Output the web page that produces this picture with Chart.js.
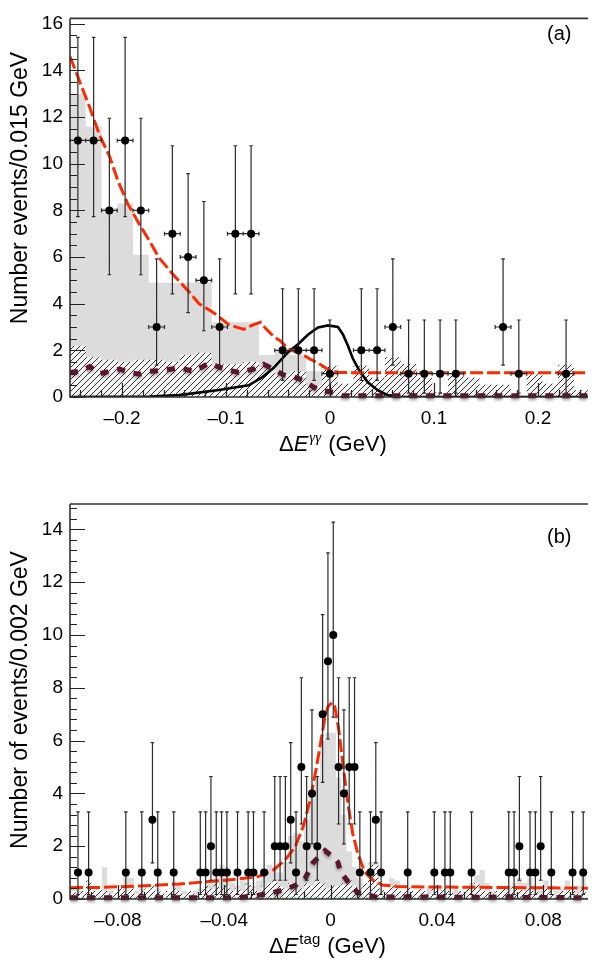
<!DOCTYPE html>
<html>
<head>
<meta charset="utf-8">
<script src="https://cdn.jsdelivr.net/npm/chart.js@4.4.1/dist/chart.umd.min.js"></script>
<style>
  html, body { margin: 0; padding: 0; background: #fff; }
  #wrap { position: relative; width: 592px; height: 966px; overflow: hidden; }
  canvas { position: absolute; left: 0; }
</style>
</head>
<body>
<div id="wrap">
  <canvas id="chartA" width="592" height="470" style="top:0px"></canvas>
  <canvas id="chartB" width="592" height="496" style="top:470px"></canvas>
</div>
<script>
// ---------- panel (a): Delta E gamma gamma ----------
const binStartA = -0.25;
const binWidthA = 0.01514;
// data counts per bin (null = empty bin, not drawn)
const countsA = [11, 11, 8, 11, 8, 3, 7, 6, 5, 3, 7, 7, null, 2, 2, 2, 1, null, 2, 2, 3, 1, 1, 1, 1, null, null, 3, 1, null, null, 1, null];
// grey MC histogram
const mcTotalA = [13.0, 11.6, 8.1, 8.3, 6.1, 4.9, 4.9, 4.9, 4.95, 3.2, 3.2, 3.2, 1.8, 2.0, 1.8, 1.1, 1.34, 0.57, 1.34, 0.83, 1.7, 1.42, 0.83, 0.2, 1.0, 0.83, 0.53, 0.53, 0.05, 1.04, 0.57, 1.38, 0.29];
// hatched background MC histogram
const mcBkgA = [2.2, 1.7, 1.6, 1.5, 1.6, 1.6, 1.5, 1.8, 1.9, 1.4, 1.4, 1.5, 1.3, 1.0, 1.1, 0.5, 1.34, 0.57, 1.34, 0.83, 1.7, 1.42, 0.83, 0.2, 1.0, 0.83, 0.53, 0.53, 0.05, 1.04, 0.57, 1.38, 0.29];
// red dashed total fit
const fitXA = [-0.25, -0.2405, -0.2309, -0.2214, -0.2118, -0.2042, -0.1947, -0.1832, -0.1737, -0.1641, -0.1498, -0.1355, -0.126, -0.1116, -0.0973, -0.083, -0.0735, -0.0668, -0.0611, -0.0544, -0.0477, -0.0401, -0.0258, -0.0181, -0.0115, -0.0019, 0.0076, 0.0267, 0.248];
const fitYA = [14.6, 13.5, 12.4, 11.2, 10.3, 9.3, 8.3, 7.4, 6.7, 5.95, 5.2, 4.5, 4.0, 3.6, 3.1, 2.9, 3.1, 3.2, 2.9, 2.6, 2.4, 2.06, 1.8, 1.6, 1.45, 1.18, 1.05, 1.04, 1.04];
// maroon dashed background component
const bkgXA = [-0.25, -0.2405, -0.2309, -0.2214, -0.2118, -0.2023, -0.1927, -0.1832, -0.1737, -0.1594, -0.145, -0.1307, -0.1164, -0.1021, -0.0878, -0.0735, -0.0639, -0.0544, -0.0448, -0.0305, -0.021, -0.0115, 0.0029, 0.0124, 0.248];
const bkgYA = [1.05, 1.1, 1.3, 1.0, 1.1, 1.2, 1.05, 0.98, 1.1, 1.15, 1.25, 1.1, 1.45, 1.2, 1.05, 1.2, 1.4, 1.2, 0.95, 0.8, 0.57, 0.3, 0.2, 0.05, 0.05];
// black solid signal shape
const sigXA = [-0.25, -0.1737, -0.145, -0.1069, -0.0782, -0.0658, -0.0544, -0.0401, -0.0305, -0.021, -0.0115, -0.0019, 0.0076, 0.0124, 0.0172, 0.0219, 0.0286, 0.0363, 0.0458, 0.0553, 0.0649, 0.248];
const sigYA = [0, 0.02, 0.08, 0.3, 0.5, 0.83, 1.24, 1.93, 2.27, 2.68, 2.98, 3.07, 3.0, 2.68, 2.2, 1.65, 1.1, 0.63, 0.29, 0.08, 0, 0];
const xTicksA = [-0.2, -0.1, 0, 0.1, 0.2];
const yTicksA = [0, 2, 4, 6, 8, 10, 12, 14, 16];

// ---------- panel (b): Delta E tag ----------
const binStartB = -0.098;
const binWidthB = 0.002;
const ptXB = [-0.095, -0.091, -0.077, -0.071, -0.067, -0.065, -0.059, -0.049, -0.047, -0.045, -0.043, -0.041, -0.039, -0.035, -0.031, -0.029, -0.025, -0.021, -0.019, -0.017, -0.015, -0.013, -0.011, -0.009, -0.007, -0.005, -0.003, -0.001, 0.001, 0.003, 0.005, 0.007, 0.009, 0.011, 0.015, 0.017, 0.019, 0.029, 0.039, 0.043, 0.045, 0.053, 0.067, 0.069, 0.071, 0.075, 0.077, 0.079, 0.083, 0.091, 0.095];
const ptNB = [1, 1, 1, 1, 3, 1, 1, 1, 1, 2, 1, 1, 1, 1, 1, 1, 1, 2, 2, 2, 3, 1, 5, 2, 4, 2, 7, 9, 10, 5, 4, 5, 5, 1, 1, 3, 1, 1, 1, 1, 1, 1, 1, 1, 2, 1, 1, 2, 1, 1, 1];
const mcTotalB = [
  0.5, 0.4, 0.3, 0.5, 0.2, 0.3, 1.2, 0.3, 0.2, 0.4,
  0.9, 0.8, 0.3, 0.4, 0.2, 0.3, 0.4, 0.2, 0.3, 0.7,
  0.6, 0.3, 0.2, 0.3, 0.4, 0.5, 0.6, 0.8, 1.3, 1.2,
  0.6, 0.5, 0.7, 0.6, 0.5, 0.7, 0.9, 1.3, 1.2, 1.0,
  1.4, 2.4, 2.5, 2.2, 3.0, 4.0, 4.6, 6.0, 6.3, 6.3,
  4.6, 3.2, 1.8, 1.2, 0.8, 0.6, 1.4, 1.4, 0.4, 0.3,
  0.8, 0.7, 0.3, 0.4, 0.2, 0.3, 0.2, 0.4, 0.3, 0.5,
  0.3, 0.2, 0.4, 0.3, 0.5, 0.6, 0.9, 1.1, 0.6, 0.3,
  0.2, 0.4, 0.5, 0.6, 0.8, 0.6, 0.8, 0.4, 0.3, 0.7,
  0.5, 0.3, 0.4, 0.7, 0.3, 0.5, 1.0
];
const mcBkgB = [
  0.3, 0.2, 0.3, 0.7, 0.3, 0.4, 0.3, 0.2, 0.3, 0.4,
  0.3, 0.4, 0.2, 0.3, 0.4, 0.5, 0.3, 0.2, 0.3, 0.4,
  0.3, 0.2, 0.3, 0.2, 0.3, 0.5, 0.4, 0.6, 0.4, 0.5,
  0.3, 0.4, 0.3, 0.6, 0.4, 0.3, 0.5, 0.6, 0.7, 0.5,
  0.4, 0.6, 0.5, 0.4, 0.6, 0.5, 0.7, 0.6, 0.4, 0.5,
  0.5, 0.6, 0.7, 0.5, 0.4, 0.6, 1.3, 1.3, 0.4, 0.3,
  0.5, 0.4, 0.3, 0.5, 0.3, 0.4, 0.3, 0.2, 0.4, 0.3,
  0.4, 0.3, 0.2, 0.3, 0.4, 0.5, 0.6, 0.4, 0.3, 0.2,
  0.3, 0.4, 0.3, 0.5, 0.4, 0.3, 0.5, 0.3, 0.2, 0.4,
  0.3, 0.2, 0.3, 0.4, 0.3, 0.2, 0.4
];
const fitXB = [-0.098, -0.0868, -0.0719, -0.057, -0.0421, -0.0346, -0.0272, -0.0215, -0.0171, -0.0133, -0.0103, -0.0077, -0.0055, -0.0036, -0.0021, -0.001, 0.0005, 0.0016, 0.0031, 0.0046, 0.0065, 0.0083, 0.0102, 0.0128, 0.0158, 0.0195, 0.0251, 0.0438, 0.0968];
const fitYB = [0.43, 0.44, 0.49, 0.57, 0.69, 0.76, 0.85, 1.1, 1.48, 1.98, 2.74, 3.75, 4.89, 6.0, 6.9, 7.28, 7.44, 7.28, 6.4, 5.14, 3.62, 2.49, 1.73, 1.03, 0.72, 0.53, 0.47, 0.45, 0.41];
const bkgXB = [-0.098, -0.0346, -0.029, -0.0234, -0.0178, -0.013, -0.0096, -0.0066, -0.0044, -0.0021, 0.0009, 0.0027, 0.0038, 0.0065, 0.0102, 0.0169, 0.0968];
const bkgYB = [0.05, 0.05, 0.12, 0.2, 0.34, 0.53, 0.78, 1.37, 1.6, 1.83, 1.6, 1.4, 1.03, 0.66, 0.24, 0.08, 0.05];
const flatXB = [-0.098, 0.0968];
const flatYB = [0.02, 0.02];
const xTicksB = [-0.08, -0.04, 0, 0.04, 0.08];
const yTicksB = [0, 2, 4, 6, 8, 10, 12, 14];

// 68% Poisson intervals by count, as drawn on the error bars
const poissonLo = [0, 0.17, 0.71, 1.37, 2.09, 2.84, 3.62, 4.42, 5.24, 6.06, 6.89, 7.73];
const poissonHi = [1.84, 3.30, 4.64, 5.92, 7.16, 8.38, 9.58, 10.77, 11.95, 13.11, 14.27, 15.42];

const FONT = '"Liberation Sans", Arial, Helvetica, sans-serif';

function histPoints(start, width, vals) {
  const pts = [];
  vals.forEach((v, i) => {
    pts.push({x: start + i * width, y: v});
    pts.push({x: start + (i + 1) * width, y: v});
  });
  return pts;
}

function curve(xs, ys) {
  return xs.map((x, i) => ({x: x, y: ys[i]}));
}

function hatchPattern() {
  const c = document.createElement('canvas');
  c.width = 6; c.height = 6;
  const g = c.getContext('2d');
  g.fillStyle = 'rgba(255,255,255,0.7)';
  g.fillRect(0, 0, 6, 6);
  g.strokeStyle = '#1a1a1a';
  g.lineWidth = 0.9;
  g.beginPath();
  g.moveTo(-1, 7); g.lineTo(7, -1);
  g.moveTo(-1, 1); g.lineTo(1, -1);
  g.moveTo(5, 7); g.lineTo(7, 5);
  g.stroke();
  return g.createPattern(c, 'repeat');
}

function fmtTick(v) {
  if (v === 0) return '0';
  return (v < 0 ? '\u2013' : '') + String(Math.abs(v));
}

// axes frame, inward ticks, error bars, titles
function framePlugin(o) {
  return {
    id: 'frame_' + o.name,
    beforeDatasetDraw(chart, args) {
      if (args.index === o.bkgIndex) {
        chart.ctx.shadowColor = 'rgba(0,0,0,0.35)';
        chart.ctx.shadowBlur = 3;
        chart.ctx.shadowOffsetY = 2;
      }
      if (args.index !== 0) return;
      const ctx = chart.ctx, x = chart.scales.x, y = chart.scales.y;
      ctx.save();
      ctx.strokeStyle = '#2b2b2b';
      ctx.lineWidth = 1.2;
      ctx.beginPath();
      o.ptX.forEach((xv, i) => {
        const n = o.ptN[i];
        const px = x.getPixelForValue(xv), py = y.getPixelForValue(n);
        const top = y.getPixelForValue(poissonHi[n]);
        const bot = y.getPixelForValue(poissonLo[n]);
        ctx.moveTo(px, top); ctx.lineTo(px, bot);
        ctx.moveTo(px - 1.8, top); ctx.lineTo(px + 1.8, top);
        ctx.moveTo(px - 1.8, bot); ctx.lineTo(px + 1.8, bot);
        const l = x.getPixelForValue(xv - o.halfW), r = x.getPixelForValue(xv + o.halfW);
        ctx.moveTo(l, py); ctx.lineTo(r, py);
        ctx.moveTo(l, py - 2); ctx.lineTo(l, py + 2);
        ctx.moveTo(r, py - 2); ctx.lineTo(r, py + 2);
      });
      ctx.stroke();
      ctx.restore();
    },
    afterDatasetDraw(chart, args) {
      if (args.index === o.bkgIndex) {
        chart.ctx.shadowColor = 'rgba(0,0,0,0)';
        chart.ctx.shadowBlur = 0;
        chart.ctx.shadowOffsetY = 0;
      }
    },
    afterDatasetsDraw(chart) {
      const ctx = chart.ctx, a = chart.chartArea, x = chart.scales.x, y = chart.scales.y;
      ctx.save();
      ctx.strokeStyle = '#222';
      ctx.lineWidth = 1.2;
      ctx.beginPath();
      for (let i = 0; i <= o.yMinorCount; i++) {
        const v = i * o.yMinor;
        if (v > y.max) break;
        const py = Math.round(y.getPixelForValue(v)) + 0.5;
        const len = (i % o.yMinorPer === 0) ? 15 : 7;
        ctx.moveTo(a.left, py); ctx.lineTo(a.left + len, py);
      }
      for (let i = -o.xMinorCount; i <= o.xMinorCount; i++) {
        const v = i * o.xMinor;
        if (v < x.min || v > x.max) continue;
        const px = Math.round(x.getPixelForValue(v)) + 0.5;
        const len = (i % o.xMinorPer === 0) ? 14 : 7;
        ctx.moveTo(px, a.bottom); ctx.lineTo(px, a.bottom - len);
      }
      ctx.stroke();
      ctx.lineWidth = 1.6;
      ctx.strokeStyle = '#333';
      ctx.beginPath();
      ctx.moveTo(a.left, a.top); ctx.lineTo(a.right, a.top);
      ctx.moveTo(a.left, a.top); ctx.lineTo(a.left, a.bottom);
      ctx.lineTo(a.right, a.bottom);
      ctx.stroke();
      ctx.restore();
    },
    afterDraw(chart) {
      const ctx = chart.ctx;
      ctx.save();
      ctx.fillStyle = '#000';
      // panel label
      ctx.font = '20px ' + FONT;
      ctx.textAlign = 'left';
      ctx.textBaseline = 'alphabetic';
      ctx.fillText(o.label, 547, o.labelY);
      // y title
      ctx.save();
      ctx.translate(21, o.yTitleY);
      ctx.rotate(-Math.PI / 2);
      ctx.textAlign = 'center';
      ctx.textBaseline = 'middle';
      ctx.font = '23px ' + FONT;
      ctx.fillText(o.yTitle, 0, 0);
      ctx.restore();
      // x title: Delta E^sup (GeV)
      let px = o.xTitleX;
      const base = o.xTitleBase;
      ctx.font = '22px ' + FONT;
      ctx.fillText('\u0394', px, base);
      px += ctx.measureText('\u0394').width;
      ctx.font = 'italic 22px ' + FONT;
      ctx.fillText('E', px, base);
      px += ctx.measureText('E').width + 1;
      ctx.font = o.supFont;
      ctx.fillText(o.sup, px, base - 9);
      px += ctx.measureText(o.sup).width + 7;
      ctx.font = '22px ' + FONT;
      ctx.fillText('(GeV)', px, base);
      ctx.restore();
    }
  };
}

function scalesFor(o) {
  return {
    x: {
      type: 'linear', min: o.xMin, max: o.xMax,
      grid: {display: false, drawTicks: false},
      border: {display: false},
      afterFit: s => { s.height = o.xHeight; },
      afterBuildTicks: s => { s.ticks = o.xTicks.map(v => ({value: v})); },
      ticks: {color: '#000', font: {family: FONT, size: 19}, padding: 10, maxRotation: 0, autoSkip: false, callback: v => fmtTick(v)}
    },
    y: {
      type: 'linear', min: 0, max: o.yMax,
      grid: {display: false, drawTicks: false},
      border: {display: false},
      afterFit: s => { s.width = 70; },
      afterBuildTicks: s => { s.ticks = o.yTicks.map(v => ({value: v})); },
      ticks: {color: '#000', font: {family: FONT, size: 19}, padding: 7, callback: v => String(v)}
    }
  };
}

const hatch = hatchPattern();

// ----- chart (a) -----
const ptXA = [], ptNA = [];
countsA.forEach((n, i) => {
  if (n !== null) { ptXA.push(binStartA + (i + 0.5) * binWidthA); ptNA.push(n); }
});

new Chart(document.getElementById('chartA'), {
  type: 'line',
  data: {
    datasets: [
      {data: curve(ptXA, ptNA), showLine: false, pointRadius: 4, pointBackgroundColor: '#000', pointBorderWidth: 0},
      {data: curve(fitXA, fitYA), borderColor: '#ff2a00', borderWidth: 3, borderDash: [13, 4], pointRadius: 0, fill: false},
      {data: curve(bkgXA, bkgYA), borderColor: '#5e1430', borderWidth: 5, borderDash: [8, 9], pointRadius: 0, fill: false, clip: {left: 0, top: 0, right: 0, bottom: 6}},
      {data: curve(sigXA, sigYA), borderColor: '#000', borderWidth: 2.6, pointRadius: 0, fill: false},
      {data: histPoints(binStartA, binWidthA, mcBkgA), borderColor: 'transparent', borderWidth: 0, backgroundColor: hatch, fill: 'origin', pointRadius: 0},
      {data: histPoints(binStartA, binWidthA, mcTotalA), borderColor: 'transparent', borderWidth: 0, backgroundColor: '#dcdcdc', fill: 'origin', pointRadius: 0}
    ]
  },
  options: {
    responsive: false,
    animation: false,
    layout: {padding: {top: 1, right: 0, bottom: 0, left: 0}},
    plugins: {legend: {display: false}, tooltip: {enabled: false}},
    scales: scalesFor({xMin: -0.25, xMax: 0.248, xHeight: 73, xTicks: xTicksA, yMax: 16.23, yTicks: yTicksA})
  },
  plugins: [framePlugin({
    name: 'a', ptX: ptXA, ptN: ptNA, halfW: binWidthA / 2, bkgIndex: 2,
    yMinor: 0.5, yMinorPer: 4, yMinorCount: 40,
    xMinor: 0.02, xMinorPer: 5, xMinorCount: 13,
    label: '(a)', labelY: 40,
    yTitle: 'Number events/0.015 GeV', yTitleY: 188,
    xTitleX: 279, xTitleBase: 451, sup: '\u03b3\u03b3', supFont: 'italic 15px "Liberation Serif", serif'
  })]
});

// ----- chart (b) -----
new Chart(document.getElementById('chartB'), {
  type: 'line',
  data: {
    datasets: [
      {data: curve(ptXB, ptNB), showLine: false, pointRadius: 4, pointBackgroundColor: '#000', pointBorderWidth: 0},
      {data: curve(fitXB, fitYB), borderColor: '#ff2a00', borderWidth: 3, borderDash: [13, 4], pointRadius: 0, fill: false},
      {data: curve(bkgXB, bkgYB), borderColor: '#5e1430', borderWidth: 5, borderDash: [8, 9], pointRadius: 0, fill: false, clip: {left: 0, top: 0, right: 0, bottom: 6}},
      {data: curve(flatXB, flatYB), borderColor: '#2aa52a', borderWidth: 1.5, borderDash: [2, 2], pointRadius: 0, fill: false},
      {data: histPoints(binStartB, binWidthB, mcBkgB), borderColor: 'transparent', borderWidth: 0, backgroundColor: hatch, fill: 'origin', pointRadius: 0},
      {data: histPoints(binStartB, binWidthB, mcTotalB), borderColor: 'transparent', borderWidth: 0, backgroundColor: '#dcdcdc', fill: 'origin', pointRadius: 0}
    ]
  },
  options: {
    responsive: false,
    animation: false,
    layout: {padding: {top: 34, right: 0, bottom: 0, left: 0}},
    plugins: {legend: {display: false}, tooltip: {enabled: false}},
    scales: scalesFor({xMin: -0.098, xMax: 0.0968, xHeight: 67, xTicks: xTicksB, yMax: 14.96, yTicks: yTicksB})
  },
  plugins: [framePlugin({
    name: 'b', ptX: ptXB, ptN: ptNB, halfW: binWidthB / 2, bkgIndex: 2,
    yMinor: 0.4, yMinorPer: 5, yMinorCount: 40,
    xMinor: 0.01, xMinorPer: 4, xMinorCount: 10,
    label: '(b)', labelY: 73,
    yTitle: 'Number of events/0.002 GeV', yTitleY: 230,
    xTitleX: 269, xTitleBase: 483, sup: 'tag', supFont: '15px ' + FONT
  })]
});
</script>
</body>
</html>
